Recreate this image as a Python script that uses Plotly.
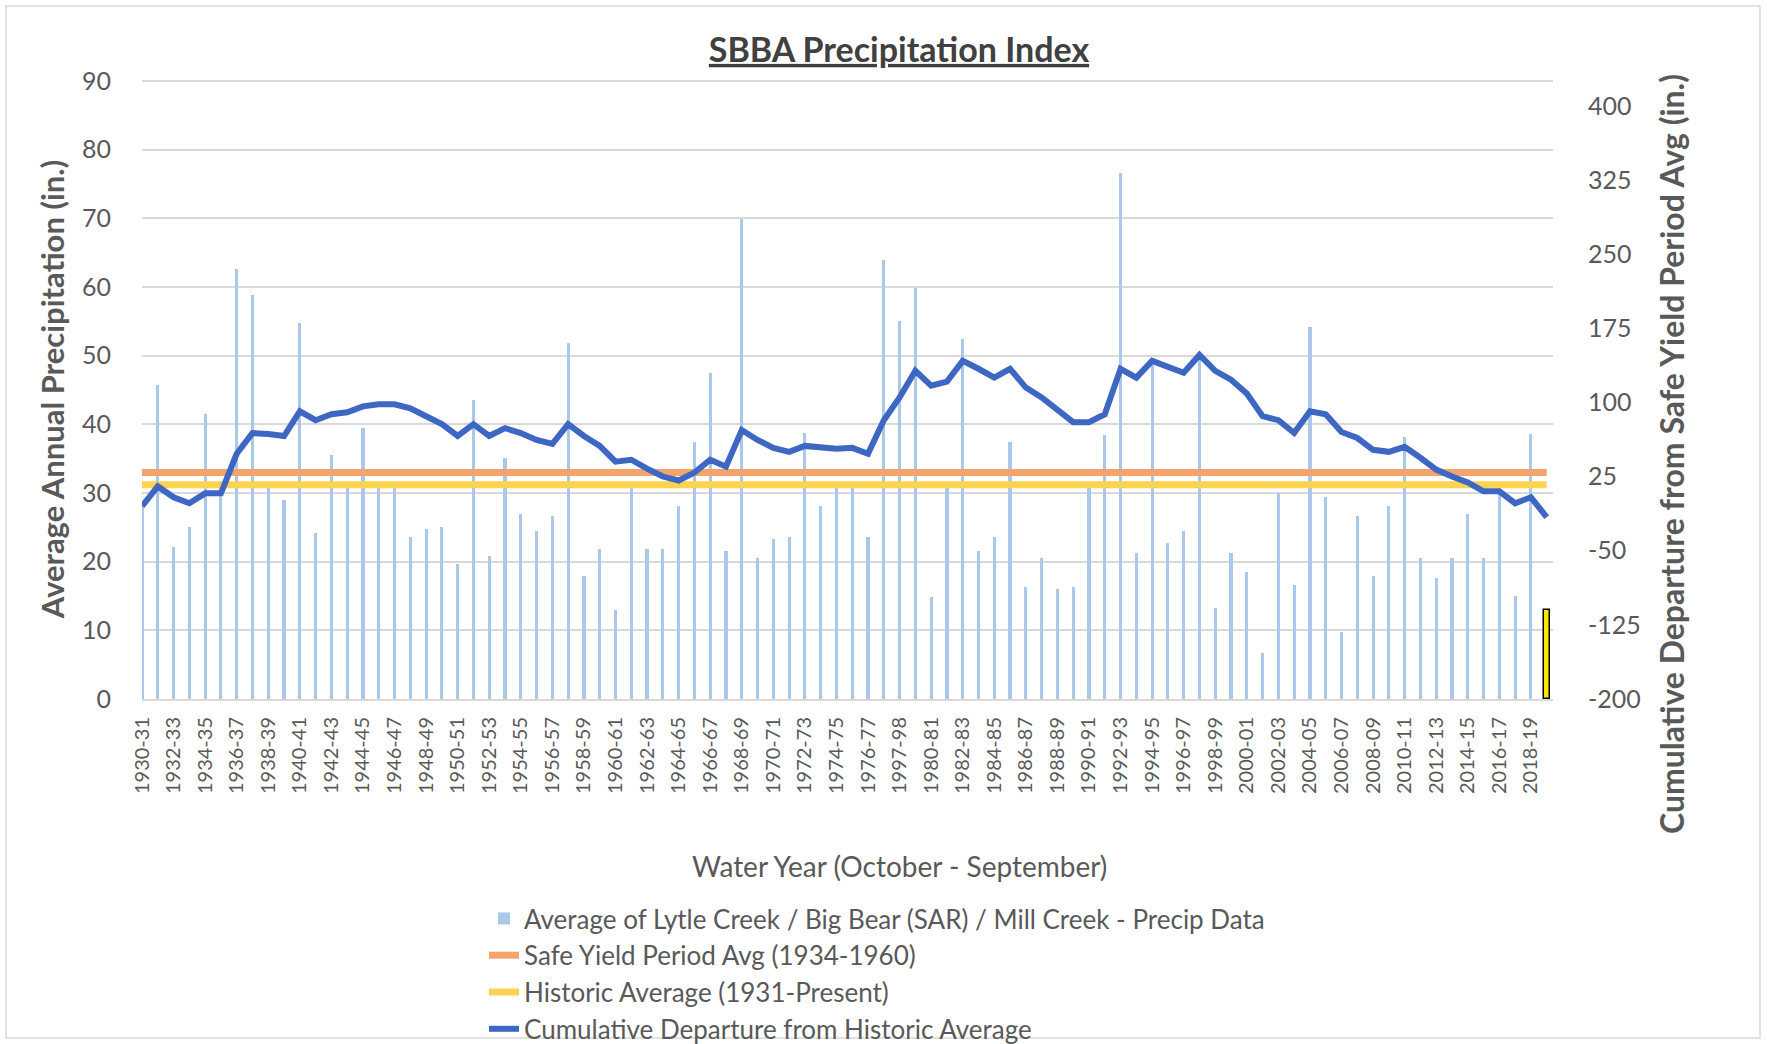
import plotly.graph_objects as go

# ---------------- data ----------------
water_years = [
    "1930-31", "1931-32", "1932-33", "1933-34", "1934-35", "1935-36", "1936-37", "1937-38", "1938-39", "1939-40",
    "1940-41", "1941-42", "1942-43", "1943-44", "1944-45", "1945-46", "1946-47", "1947-48", "1948-49", "1949-50",
    "1950-51", "1951-52", "1952-53", "1953-54", "1954-55", "1955-56", "1956-57", "1957-58", "1958-59", "1959-60",
    "1960-61", "1961-62", "1962-63", "1963-64", "1964-65", "1965-66", "1966-67", "1967-68", "1968-69", "1969-70",
    "1970-71", "1971-72", "1972-73", "1973-74", "1974-75", "1975-76", "1976-77", "1977-78", "1997-98", "1979-80",
    "1980-81", "1981-82", "1982-83", "1983-84", "1984-85", "1985-86", "1986-87", "1987-88", "1988-89", "1989-90",
    "1990-91", "1991-92", "1992-93", "1993-94", "1994-95", "1995-96", "1996-97", "1997-98", "1998-99", "1999-00",
    "2000-01", "2001-02", "2002-03", "2003-04", "2004-05", "2005-06", "2006-07", "2007-08", "2008-09", "2009-10",
    "2010-11", "2011-12", "2012-13", "2013-14", "2014-15", "2015-16", "2016-17", "2017-18", "2018-19", "2019-20",
]

# Average of Lytle Creek / Big Bear (SAR) / Mill Creek precipitation (in.)
precip = [
    28.0, 45.7, 22.2, 25.0, 41.5, 31.0, 62.7, 58.8, 31.0, 29.0,
    54.7, 24.2, 35.6, 31.5, 39.5, 31.5, 31.5, 23.6, 24.8, 25.1,
    19.7, 43.6, 20.9, 35.1, 26.9, 24.5, 26.6, 51.8, 17.9, 21.8,
    13.0, 31.5, 21.8, 21.8, 28.1, 37.5, 47.5, 21.5, 69.9, 20.6,
    23.3, 23.6, 38.7, 28.1, 31.5, 31.5, 23.6, 63.9, 55.1, 59.9,
    14.8, 31.5, 52.4, 21.5, 23.6, 37.5, 16.3, 20.6, 16.0, 16.3,
    31.5, 38.4, 76.6, 21.2, 48.7, 22.7, 24.5, 49.6, 13.3, 21.2,
    18.5, 6.7, 30.0, 16.6, 54.2, 29.4, 9.7, 26.6, 17.9, 28.1,
    38.1, 20.6, 17.6, 20.6, 26.9, 20.6, 31.0, 15.0, 38.6, 13.0,
]

# Cumulative departure (in.), right axis
cum_departure = [
    -5, 15, 4, -2, 8, 8, 48, 69, 68, 66,
    91, 82, 88, 90, 96, 98, 98, 94, 86, 78,
    66, 78, 66, 74, 69, 62, 58, 78, 66, 56,
    40, 42, 33, 25, 21, 29, 42, 35, 72, 62,
    54, 50, 56, 54, 53, 54, 48, 82, 105, 132,
    117, 121, 142, 134, 125, 134, 115, 105, 92, 80,
    80, 88, 134, 125, 142, 136, 130, 148, 132, 123,
    109, 86, 82, 69, 91, 88, 70, 64, 52, 50,
    55, 44, 32, 25, 19, 10, 10, -2, 4, -16,
]

safe_yield_avg = 33.0   # Safe Yield Period Avg (1934-1960)
historic_avg = 31.2     # Historic Average (1931-Present)

left_ticks = [0, 10, 20, 30, 40, 50, 60, 70, 80, 90]
right_ticks = [-200, -125, -50, 25, 100, 175, 250, 325, 400]

# ---------------- layout geometry ----------------
W, H = 1767, 1044
ML, MR, MT, MB = 142, 214, 79, 345
PW, PH = W - ML - MR, H - MT - MB
Y_TOP = 90.3  # small headroom so the 90 gridline is drawn


def px_x(px):
    return (px - ML) / PW


def px_y(py):
    return (H - MB - py) / PH


x = list(range(len(water_years)))
n = len(x)

TXT = "#595959"
FONT = "Lato, 'Open Sans', sans-serif"

bar_colors = ["#A9C8EA"] * (n - 1) + ["#FFE800"]
bar_line_colors = ["#A9C8EA"] * (n - 1) + ["#000000"]
bar_line_widths = [0] * (n - 1) + [1.5]
bar_widths = [0.2] * (n - 1) + [0.4]

fig = go.Figure()

fig.add_trace(go.Bar(
    x=x, y=precip, width=bar_widths,
    marker=dict(color=bar_colors, line=dict(color=bar_line_colors, width=bar_line_widths)),
    name="Average of Lytle Creek / Big Bear (SAR) / Mill Creek - Precip Data",
    yaxis="y",
))

fig.add_trace(go.Scatter(
    x=x, y=[safe_yield_avg] * n, mode="lines",
    line=dict(color="#F4A36C", width=7),
    name="Safe Yield Period Avg (1934-1960)", yaxis="y",
))

fig.add_trace(go.Scatter(
    x=x, y=[historic_avg] * n, mode="lines",
    line=dict(color="#FFD24F", width=7),
    name="Historic Average (1931-Present)", yaxis="y",
))

fig.add_trace(go.Scatter(
    x=x, y=cum_departure, mode="lines",
    line=dict(color="#3E67C4", width=6),
    name="Cumulative Departure from Historic Average", yaxis="y2",
))

fig.update_layout(
    width=W, height=H,
    margin=dict(l=ML, r=MR, t=MT, b=MB, autoexpand=False),
    paper_bgcolor="white", plot_bgcolor="white",
    font=dict(family=FONT, color=TXT),
    bargap=0,
    title=dict(
        text="<b><u>SBBA Precipitation Index</u></b>",
        x=899 / W, xref="container", xanchor="center",
        y=1 - 50 / H, yref="container", yanchor="middle",
        font=dict(size=34, color="#404040", family=FONT),
    ),
    xaxis=dict(
        range=[0, 89.4],
        tickmode="array", tickvals=x[::2], ticktext=water_years[::2],
        tickangle=-90, tickfont=dict(size=20, color=TXT),
        ticks="", ticklabelstandoff=8,
        showgrid=False, zeroline=False,
        showline=True, linecolor="#D9D9D9", linewidth=2,
    ),
    yaxis=dict(
        range=[0, Y_TOP], tickmode="array", tickvals=left_ticks,
        tickfont=dict(size=25, color=TXT),
        ticks="", ticklabelstandoff=30,
        showgrid=True, gridcolor="#D9D9D9", gridwidth=2,
        zeroline=False, showline=False,
        title=dict(text="<b>Average Annual Precipitation (in.)</b>",
                   font=dict(size=31, color=TXT), standoff=8),
    ),
    yaxis2=dict(
        range=[-200, -200 + 625 * Y_TOP / 90], overlaying="y", side="right",
        tickmode="array", tickvals=right_ticks,
        ticktext=[str(v) for v in right_ticks],
        tickfont=dict(size=25, color=TXT),
        ticks="", ticklabelstandoff=34,
        showgrid=False, zeroline=False, showline=False,
    ),
    legend=dict(
        x=px_x(484), y=px_y(895), xanchor="left", yanchor="top",
        orientation="v", traceorder="normal",
        font=dict(size=26, color=TXT), bgcolor="rgba(0,0,0,0)",
        itemwidth=30,
    ),
    annotations=[
        dict(text="Water Year (October - September)", xref="paper", yref="paper",
             x=px_x(900), y=px_y(866), xanchor="center", yanchor="middle",
             showarrow=False, font=dict(size=28, color=TXT)),
        dict(text="<b>Cumulative Departure from Safe Yield Period Avg (in.)</b>",
             xref="paper", yref="paper", textangle=-90,
             x=px_x(1671), y=px_y(454), xanchor="center", yanchor="middle",
             showarrow=False, font=dict(size=32, color=TXT)),
    ],
    shapes=[
        dict(type="rect", xref="paper", yref="paper",
             x0=px_x(6), x1=px_x(1760), y0=px_y(1038), y1=px_y(6),
             line=dict(color="#D9D9D9", width=1.5), fillcolor="rgba(0,0,0,0)", layer="below"),
    ],
    showlegend=True,
)

fig.write_html(
    "out.html",
    config={"displayModeBar": False},
    post_script="document.body.style.margin='0';document.body.style.overflow='hidden';",
)
